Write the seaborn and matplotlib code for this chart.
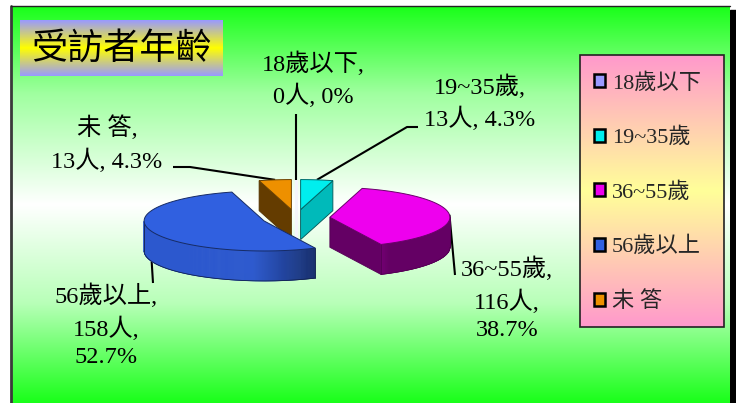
import numpy as np
import matplotlib
matplotlib.use("Agg")
import matplotlib.pyplot as plt
from matplotlib.patches import Polygon, Rectangle, Patch
from matplotlib.collections import PolyCollection
from matplotlib.colors import LinearSegmentedColormap, to_rgb
import seaborn as sns

# ---- data ----
categories = ['18歲以下', '19~35歲', '36~55歲', '56歲以上', '未 答']
counts = [0, 13, 116, 158, 13]
title = '受訪者年齡'
slice_colors = ['#9999ff', '#00eeee', '#ee00ee', '#3060e0', '#ee9000']

sns.set_theme(style='white')
FONT = ['Liberation Serif', 'Noto Sans CJK TC']
plt.rcParams['font.family'] = FONT
palette = sns.color_palette(slice_colors)

W, H = 736, 403
fig = plt.figure(figsize=(W / 100, H / 100), dpi=100)
ax = fig.add_axes([0, 0, 1, 1])
ax.set_xlim(0, W)
ax.set_ylim(H, 0)
ax.axis('off')


def vgrad(x0, x1, y0, y1, stops, z):
    cmap = LinearSegmentedColormap.from_list('g', stops)
    img = np.linspace(0, 1, 256).reshape(-1, 1)
    ax.imshow(img, cmap=cmap, extent=(x0, x1, y1, y0), aspect='auto',
              zorder=z, interpolation='bilinear')


# panel background with drop shadow
ax.add_patch(Rectangle((730, 10), 8, 400, color='black', zorder=0))
vgrad(11, 730, 6, 403, [(0, '#1aff1a'), (0.22, '#a0ffa0'), (0.5, '#ffffff'),
                        (0.75, '#b8ffb8'), (1.0, '#1aff1a')], 1)
ax.plot([11, 11], [6, 403], color='#3a3a3a', lw=2, zorder=2)
ax.plot([11, 730], [6, 6], color='#222222', lw=1, zorder=2)

# title box
vgrad(20, 223, 20, 76, [(0, '#9999ff'), (0.5, '#ffff00'), (1, '#9999ff')], 2)
ax.text(121.5, 48.5, title, fontsize=26, family=['Noto Sans CJK TC'],
        fontweight='light', ha='center', va='center', color='black', zorder=3)

# legend box
vgrad(580, 724, 55, 327, [(0, '#ff99cc'), (0.5, '#ffff99'), (1, '#ff99cc')], 2)
ax.add_patch(Rectangle((580, 55), 144, 272, fill=False, ec='#222222', lw=1.2, zorder=3))

# ---- 3D exploded pie ----
total = sum(counts)
cx0, cy0 = 296, 218
rx, ry, depth = 120, 30, 30
explode = 34


def shade(c, f):
    return tuple(np.clip(np.array(to_rgb(c)) * f, 0, 1))


def arc_pt(cx, cy, t, dz=0.0):
    return (cx + rx * np.cos(t), cy - ry * np.sin(t) + dz)


slices = []
a = 90.0
for i, v in enumerate(counts):
    span = 360.0 * v / total
    a0, a1 = a, a - span
    a = a1
    mid = np.radians((a0 + a1) / 2)
    cx = cx0 + explode * np.cos(mid)
    cy = cy0 - explode * (ry / rx) * np.sin(mid)
    slices.append(dict(i=i, a0=np.radians(a0), a1=np.radians(a1), mid=mid, cx=cx, cy=cy))

for s in sorted(slices, key=lambda d: d['cy']):
    i = s['i']
    base = palette[i]
    cx, cy, a0, a1 = s['cx'], s['cy'], s['a0'], s['a1']
    if counts[i] == 0:
        # an empty slice collapses to its radial face seen edge-on
        ox, oy = arc_pt(cx, cy, a0)
        ax.add_patch(Polygon([(cx, cy), (ox, oy), (ox, oy + depth), (cx, cy + depth)],
                             closed=True, fc='#f4f4fa', ec='#f4f4fa', lw=2.2, zorder=5))
        continue
    # radial cut faces
    for edge, normal in ((a0, a0 + np.pi / 2), (a1, a1 - np.pi / 2)):
        if np.sin(normal) < -1e-6:
            ox, oy = arc_pt(cx, cy, edge)
            f = 0.78 if np.cos(normal) > 0 else 0.42
            ax.add_patch(Polygon([(cx, cy), (ox, oy), (ox, oy + depth), (cx, cy + depth)],
                                 closed=True, fc=shade(base, f), ec=shade(base, 0.35),
                                 lw=0.6, zorder=5))
    # outer wall (front half only)
    ts = np.linspace(a1, a0, 400)
    quads, cols = [], []
    for t0, t1 in zip(ts[:-1], ts[1:]):
        if np.sin(t0) <= 0 and np.sin(t1) <= 0:
            p0, p1 = arc_pt(cx, cy, t0), arc_pt(cx, cy, t1)
            quads.append([p0, p1, (p1[0], p1[1] + depth), (p0[0], p0[1] + depth)])
            d = np.degrees((t0 + t1) / 2) % 360
            f = 0.42 + 0.5 * np.clip((300 - d) / 35, 0, 1) + 0.1 * np.clip((d - 300) / 40, 0, 1) * 0
            cols.append(shade(base, f))
    if quads:
        ax.add_collection(PolyCollection(quads, facecolors=cols, edgecolors=cols,
                                         lw=0.5, zorder=5))
        # outline of the wall
        vis = ts[np.sin(ts) <= 0]
        bx = [arc_pt(cx, cy, t, depth) for t in vis]
        ax.plot([p[0] for p in bx], [p[1] for p in bx], color=shade(base, 0.35),
                lw=0.6, zorder=6)
        for t in (vis[0], vis[-1]):
            p = arc_pt(cx, cy, t)
            ax.plot([p[0], p[0]], [p[1], p[1] + depth], color=shade(base, 0.35),
                    lw=0.6, zorder=6)
    # top face
    arc = [arc_pt(cx, cy, t) for t in np.linspace(a0, a1, 200)]
    ax.add_patch(Polygon([(cx, cy)] + arc, closed=True, fc=base,
                         ec=shade(base, 0.45), lw=0.7, zorder=7))

# ---- data labels with leader lines ----
label_pos = [(313, 80), (480, 103), (507, 299), (106, 326), (107, 144)]
label_lines = [2, 2, 3, 3, 2]
leader_start = [[(296, 114)], [(418, 127), (407, 127)], [(455, 275)],
                [(153, 283)], [(173, 167), (190, 167)]]

for s in slices:
    i = s['i']
    n = counts[i]
    pct = '0%' if n == 0 else f'{100 * n / total:.1f}%'
    sep = '\n' if label_lines[i] == 3 else ' '
    txt = f'{categories[i]},\n{n}人,{sep}{pct}'
    ax.text(*label_pos[i], txt, fontsize=17.5, family=FONT, ha='center', va='center',
            linespacing=1.42, color='black', zorder=8)
    # anchor point on the slice rim
    if np.sin(s['mid']) < 0:
        anchor = arc_pt(s['cx'], s['cy'], s['mid'], depth)
    else:
        anchor = arc_pt(s['cx'], s['cy'], s['mid'])
    pts = leader_start[i] + [anchor]
    ax.plot([p[0] for p in pts], [p[1] for p in pts], color='black', lw=1.5,
            zorder=4, solid_capstyle='butt')

# ---- legend ----
handles = [Patch(facecolor=palette[i], edgecolor='black', linewidth=1.8)
           for i in range(len(categories))]
leg = ax.legend(handles, categories, loc='upper left', bbox_to_anchor=(594, 73),
                bbox_transform=ax.transData, frameon=False, fontsize=16,
                handlelength=0.5, handleheight=0.5, handletextpad=0.3,
                labelspacing=1.53, borderpad=0, borderaxespad=0)
leg.set_zorder(9)
for t in leg.get_texts():
    t.set_fontfamily(FONT)

fig.savefig('out.png', dpi=100)
